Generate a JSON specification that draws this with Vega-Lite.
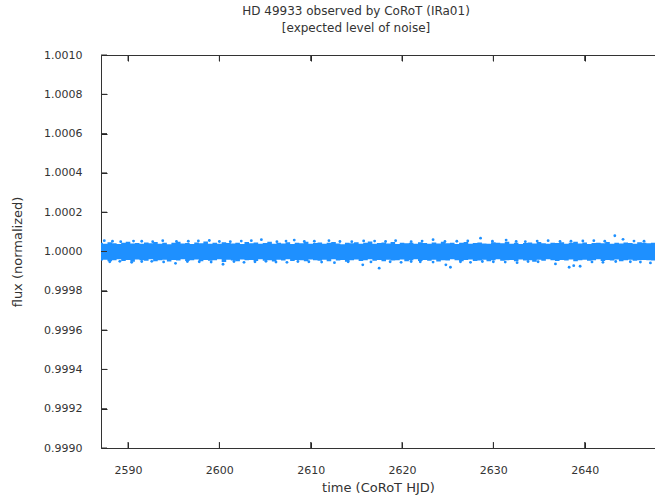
{
  "$schema": "https://vega.github.io/schema/vega-lite/v6.json",
  "width": 554,
  "height": 393,
  "autosize": {"type": "none"},
  "padding": {"left": 101, "top": 55, "right": 0, "bottom": 49},
  "background": "white",
  "config": {
    "view": {"stroke": null},
    "font": "DejaVu Sans",
    "axis": {
      "grid": false,
      "domainColor": "#333",
      "labelColor": "#333",
      "titleColor": "#333",
      "labelFontSize": 11,
      "titleFontSize": 13,
      "titleFontWeight": "normal",
      "labelFont": "DejaVu Sans",
      "titleFont": "DejaVu Sans"
    }
  },
  "title": {
    "text": ["HD 49933 observed by CoRoT (IRa01)", "[expected level of noise]"],
    "fontSize": 12,
    "fontWeight": "normal",
    "font": "DejaVu Sans",
    "color": "#333",
    "anchor": "middle",
    "dx": -22,
    "offset": 14,
    "lineHeight": 17
  },
  "datasets": {
    "band": [
      {"t":2587,"lo":0.999954,"hi":1.000044},
      {"t":2587.5,"lo":0.999958,"hi":1.000040},
      {"t":2588,"lo":0.999950,"hi":1.000047},
      {"t":2588.5,"lo":0.999956,"hi":1.000042},
      {"t":2589,"lo":0.999961,"hi":1.000038},
      {"t":2589.5,"lo":0.999952,"hi":1.000045},
      {"t":2590,"lo":0.999957,"hi":1.000050},
      {"t":2590.5,"lo":0.999948,"hi":1.000041},
      {"t":2591,"lo":0.999959,"hi":1.000043},
      {"t":2591.5,"lo":0.999955,"hi":1.000039},
      {"t":2592,"lo":0.999953,"hi":1.000046},
      {"t":2592.5,"lo":0.999960,"hi":1.000042},
      {"t":2593,"lo":0.999951,"hi":1.000048},
      {"t":2593.5,"lo":0.999956,"hi":1.000040},
      {"t":2594,"lo":0.999958,"hi":1.000044},
      {"t":2594.5,"lo":0.999949,"hi":1.000037},
      {"t":2595,"lo":0.999957,"hi":1.000045},
      {"t":2595.5,"lo":0.999954,"hi":1.000049},
      {"t":2596,"lo":0.999961,"hi":1.000041},
      {"t":2596.5,"lo":0.999952,"hi":1.000043},
      {"t":2597,"lo":0.999955,"hi":1.000038},
      {"t":2597.5,"lo":0.999959,"hi":1.000046},
      {"t":2598,"lo":0.999950,"hi":1.000042},
      {"t":2598.5,"lo":0.999957,"hi":1.000051},
      {"t":2599,"lo":0.999953,"hi":1.000040},
      {"t":2599.5,"lo":0.999956,"hi":1.000044},
      {"t":2600,"lo":0.999960,"hi":1.000039},
      {"t":2600.5,"lo":0.999947,"hi":1.000047},
      {"t":2601,"lo":0.999958,"hi":1.000043},
      {"t":2601.5,"lo":0.999954,"hi":1.000041},
      {"t":2602,"lo":0.999951,"hi":1.000045},
      {"t":2602.5,"lo":0.999959,"hi":1.000038},
      {"t":2603,"lo":0.999955,"hi":1.000048},
      {"t":2603.5,"lo":0.999957,"hi":1.000042},
      {"t":2604,"lo":0.999952,"hi":1.000046},
      {"t":2604.5,"lo":0.999960,"hi":1.000040},
      {"t":2605,"lo":0.999953,"hi":1.000043},
      {"t":2605.5,"lo":0.999956,"hi":1.000050},
      {"t":2606,"lo":0.999949,"hi":1.000039},
      {"t":2606.5,"lo":0.999958,"hi":1.000044},
      {"t":2607,"lo":0.999954,"hi":1.000041},
      {"t":2607.5,"lo":0.999961,"hi":1.000047},
      {"t":2608,"lo":0.999952,"hi":1.000038},
      {"t":2608.5,"lo":0.999957,"hi":1.000045},
      {"t":2609,"lo":0.999955,"hi":1.000042},
      {"t":2609.5,"lo":0.999950,"hi":1.000049},
      {"t":2610,"lo":0.999959,"hi":1.000040},
      {"t":2610.5,"lo":0.999956,"hi":1.000043},
      {"t":2611,"lo":0.999953,"hi":1.000046},
      {"t":2611.5,"lo":0.999958,"hi":1.000039},
      {"t":2612,"lo":0.999951,"hi":1.000044},
      {"t":2612.5,"lo":0.999960,"hi":1.000048},
      {"t":2613,"lo":0.999954,"hi":1.000041},
      {"t":2613.5,"lo":0.999957,"hi":1.000037},
      {"t":2614,"lo":0.999948,"hi":1.000045},
      {"t":2614.5,"lo":0.999955,"hi":1.000042},
      {"t":2615,"lo":0.999959,"hi":1.000047},
      {"t":2615.5,"lo":0.999952,"hi":1.000040},
      {"t":2616,"lo":0.999956,"hi":1.000044},
      {"t":2616.5,"lo":0.999961,"hi":1.000051},
      {"t":2617,"lo":0.999953,"hi":1.000039},
      {"t":2617.5,"lo":0.999957,"hi":1.000043},
      {"t":2618,"lo":0.999950,"hi":1.000046},
      {"t":2618.5,"lo":0.999958,"hi":1.000041},
      {"t":2619,"lo":0.999954,"hi":1.000048},
      {"t":2619.5,"lo":0.999956,"hi":1.000038},
      {"t":2620,"lo":0.999959,"hi":1.000045},
      {"t":2620.5,"lo":0.999951,"hi":1.000042},
      {"t":2621,"lo":0.999955,"hi":1.000044},
      {"t":2621.5,"lo":0.999960,"hi":1.000040},
      {"t":2622,"lo":0.999952,"hi":1.000047},
      {"t":2622.5,"lo":0.999957,"hi":1.000043},
      {"t":2623,"lo":0.999953,"hi":1.000039},
      {"t":2623.5,"lo":0.999958,"hi":1.000046},
      {"t":2624,"lo":0.999949,"hi":1.000041},
      {"t":2624.5,"lo":0.999956,"hi":1.000050},
      {"t":2625,"lo":0.999954,"hi":1.000042},
      {"t":2625.5,"lo":0.999960,"hi":1.000045},
      {"t":2626,"lo":0.999955,"hi":1.000038},
      {"t":2626.5,"lo":0.999951,"hi":1.000044},
      {"t":2627,"lo":0.999957,"hi":1.000048},
      {"t":2627.5,"lo":0.999959,"hi":1.000040},
      {"t":2628,"lo":0.999952,"hi":1.000043},
      {"t":2628.5,"lo":0.999954,"hi":1.000046},
      {"t":2629,"lo":0.999958,"hi":1.000041},
      {"t":2629.5,"lo":0.999950,"hi":1.000039},
      {"t":2630,"lo":0.999956,"hi":1.000047},
      {"t":2630.5,"lo":0.999961,"hi":1.000044},
      {"t":2631,"lo":0.999953,"hi":1.000042},
      {"t":2631.5,"lo":0.999955,"hi":1.000049},
      {"t":2632,"lo":0.999957,"hi":1.000040},
      {"t":2632.5,"lo":0.999951,"hi":1.000045},
      {"t":2633,"lo":0.999959,"hi":1.000038},
      {"t":2633.5,"lo":0.999954,"hi":1.000043},
      {"t":2634,"lo":0.999956,"hi":1.000046},
      {"t":2634.5,"lo":0.999948,"hi":1.000041},
      {"t":2635,"lo":0.999958,"hi":1.000048},
      {"t":2635.5,"lo":0.999953,"hi":1.000042},
      {"t":2636,"lo":0.999960,"hi":1.000039},
      {"t":2636.5,"lo":0.999955,"hi":1.000045},
      {"t":2637,"lo":0.999952,"hi":1.000043},
      {"t":2637.5,"lo":0.999957,"hi":1.000047},
      {"t":2638,"lo":0.999954,"hi":1.000040},
      {"t":2638.5,"lo":0.999959,"hi":1.000044},
      {"t":2639,"lo":0.999950,"hi":1.000050},
      {"t":2639.5,"lo":0.999956,"hi":1.000041},
      {"t":2640,"lo":0.999958,"hi":1.000046},
      {"t":2640.5,"lo":0.999953,"hi":1.000038},
      {"t":2641,"lo":0.999955,"hi":1.000043},
      {"t":2641.5,"lo":0.999961,"hi":1.000045},
      {"t":2642,"lo":0.999952,"hi":1.000042},
      {"t":2642.5,"lo":0.999957,"hi":1.000048},
      {"t":2643,"lo":0.999954,"hi":1.000039},
      {"t":2643.5,"lo":0.999959,"hi":1.000044},
      {"t":2644,"lo":0.999951,"hi":1.000041},
      {"t":2644.5,"lo":0.999956,"hi":1.000046},
      {"t":2645,"lo":0.999958,"hi":1.000043},
      {"t":2645.5,"lo":0.999953,"hi":1.000040},
      {"t":2646,"lo":0.999955,"hi":1.000047},
      {"t":2646.5,"lo":0.999957,"hi":1.000045},
      {"t":2647,"lo":0.999956,"hi":1.000042},
      {"t":2647.5,"lo":0.999954,"hi":1.000044},
      {"t":2648,"lo":0.999955,"hi":1.000043}
    ],
    "specks": [
      {"t":2587.4,"f":1.000055},
      {"t":2588.3,"f":1.000052},
      {"t":2589.2,"f":1.000050},
      {"t":2590.6,"f":1.000053},
      {"t":2591.5,"f":1.000052},
      {"t":2592.7,"f":1.000050},
      {"t":2593.8,"f":1.000055},
      {"t":2595.3,"f":1.000051},
      {"t":2596.6,"f":1.000052},
      {"t":2597.7,"f":1.000054},
      {"t":2598.9,"f":1.000056},
      {"t":2600.0,"f":1.000051},
      {"t":2601.2,"f":1.000050},
      {"t":2602.4,"f":1.000053},
      {"t":2603.5,"f":1.000055},
      {"t":2604.6,"f":1.000060},
      {"t":2606.3,"f":1.000050},
      {"t":2607.3,"f":1.000053},
      {"t":2608.2,"f":1.000058},
      {"t":2609.3,"f":1.000051},
      {"t":2610.4,"f":1.000052},
      {"t":2612.0,"f":1.000055},
      {"t":2613.2,"f":1.000051},
      {"t":2614.5,"f":1.000050},
      {"t":2615.8,"f":1.000054},
      {"t":2617.0,"f":1.000053},
      {"t":2618.2,"f":1.000051},
      {"t":2619.3,"f":1.000055},
      {"t":2621.0,"f":1.000050},
      {"t":2622.2,"f":1.000053},
      {"t":2623.4,"f":1.000060},
      {"t":2624.7,"f":1.000051},
      {"t":2626.0,"f":1.000052},
      {"t":2627.2,"f":1.000054},
      {"t":2628.6,"f":1.000068},
      {"t":2629.9,"f":1.000052},
      {"t":2631.4,"f":1.000058},
      {"t":2632.5,"f":1.000051},
      {"t":2633.5,"f":1.000050},
      {"t":2634.8,"f":1.000053},
      {"t":2636.0,"f":1.000055},
      {"t":2637.3,"f":1.000051},
      {"t":2638.5,"f":1.000052},
      {"t":2639.8,"f":1.000054},
      {"t":2641.0,"f":1.000055},
      {"t":2642.2,"f":1.000052},
      {"t":2643.3,"f":1.000080},
      {"t":2644.2,"f":1.000062},
      {"t":2645.4,"f":1.000053},
      {"t":2646.5,"f":1.000052},
      {"t":2588.0,"f":0.999948},
      {"t":2589.1,"f":0.999950},
      {"t":2590.4,"f":0.999945},
      {"t":2591.5,"f":0.999949},
      {"t":2592.6,"f":0.999950},
      {"t":2593.9,"f":0.999947},
      {"t":2595.2,"f":0.999940},
      {"t":2596.5,"f":0.999949},
      {"t":2597.8,"f":0.999948},
      {"t":2599.1,"f":0.999946},
      {"t":2600.4,"f":0.999935},
      {"t":2601.6,"f":0.999949},
      {"t":2602.7,"f":0.999945},
      {"t":2603.9,"f":0.999948},
      {"t":2605.1,"f":0.999950},
      {"t":2606.2,"f":0.999946},
      {"t":2607.4,"f":0.999945},
      {"t":2608.6,"f":0.999949},
      {"t":2609.8,"f":0.999948},
      {"t":2611.2,"f":0.999946},
      {"t":2612.6,"f":0.999943},
      {"t":2614.1,"f":0.999948},
      {"t":2615.7,"f":0.999932},
      {"t":2616.6,"f":0.999947},
      {"t":2617.5,"f":0.999915},
      {"t":2618.7,"f":0.999948},
      {"t":2619.9,"f":0.999945},
      {"t":2621.0,"f":0.999949},
      {"t":2622.0,"f":0.999948},
      {"t":2623.4,"f":0.999946},
      {"t":2624.8,"f":0.999932},
      {"t":2625.3,"f":0.999920},
      {"t":2626.4,"f":0.999948},
      {"t":2627.5,"f":0.999945},
      {"t":2628.8,"f":0.999949},
      {"t":2630.0,"f":0.999948},
      {"t":2631.3,"f":0.999946},
      {"t":2632.6,"f":0.999943},
      {"t":2633.8,"f":0.999949},
      {"t":2634.9,"f":0.999948},
      {"t":2636.8,"f":0.999937},
      {"t":2638.3,"f":0.999920},
      {"t":2638.8,"f":0.999928},
      {"t":2639.5,"f":0.999925},
      {"t":2640.8,"f":0.999947},
      {"t":2642.0,"f":0.999945},
      {"t":2643.4,"f":0.999949},
      {"t":2645.0,"f":0.999948},
      {"t":2646.1,"f":0.999946},
      {"t":2647.2,"f":0.999942}
    ],
    "xticks": [{"t":2590},{"t":2600},{"t":2610},{"t":2620},{"t":2630},{"t":2640}],
    "yticks": [{"v":0.999},{"v":0.9992},{"v":0.9994},{"v":0.9996},{"v":0.9998},{"v":1.0},{"v":1.0002},{"v":1.0004},{"v":1.0006},{"v":1.0008},{"v":1.001}]
  },
  "layer": [
    {
      "data": {"name": "band"},
      "mark": {"type": "area", "color": "#1E90FF", "opacity": 1, "interpolate": "step", "clip": true},
      "encoding": {
        "x": {
          "field": "t", "type": "quantitative",
          "scale": {"domain": [2587.04, 2647.7], "nice": false, "zero": false},
          "axis": {
            "orient": "bottom",
            "values": [2590, 2600, 2610, 2620, 2630, 2640],
            "format": "d",
            "ticks": true,
            "tickSize": -6,
            "tickColor": "#222",
            "labelPadding": 22,
            "labelOverlap": false,
            "labelFlush": false,
            "title": "time (CoRoT HJD)",
            "titlePadding": 6
          }
        },
        "y": {
          "field": "lo", "type": "quantitative",
          "scale": {"domain": [0.999, 1.001], "nice": false, "zero": false},
          "axis": {
            "values": [0.999, 0.9992, 0.9994, 0.9996, 0.9998, 1.0, 1.0002, 1.0004, 1.0006, 1.0008, 1.001],
            "format": ".4f",
            "ticks": true,
            "tickSize": -6,
            "tickColor": "#222",
            "labelPadding": 25,
            "labelOverlap": false,
            "labelFlush": false,
            "title": "flux (normalized)",
            "titlePadding": 19
          }
        },
        "y2": {"field": "hi"}
      }
    },
    {
      "data": {"name": "specks"},
      "mark": {"type": "circle", "color": "#1E90FF", "opacity": 1, "size": 8, "clip": true},
      "encoding": {
        "x": {
          "field": "t", "type": "quantitative",
          "scale": {"domain": [2587.04, 2647.7], "nice": false, "zero": false},
          "axis": {
            "orient": "top",
            "values": [2590, 2600, 2610, 2620, 2630, 2640],
            "labels": false,
            "ticks": true,
            "tickSize": -6,
            "tickColor": "#222",
            "title": null
          }
        },
        "y": {
          "field": "f", "type": "quantitative",
          "scale": {"domain": [0.999, 1.001], "nice": false, "zero": false},
          "axis": {
            "values": [0.999, 0.9992, 0.9994, 0.9996, 0.9998, 1.0, 1.0002, 1.0004, 1.0006, 1.0008, 1.001],
            "format": ".4f",
            "ticks": true,
            "tickSize": -6,
            "tickColor": "#222",
            "labelPadding": 25,
            "labelOverlap": false,
            "labelFlush": false,
            "title": "flux (normalized)",
            "titlePadding": 19
          }
        }
      }
    },
    {
      "data": {"name": "xticks"},
      "mark": {"type": "rule", "color": "#333", "strokeWidth": 1},
      "encoding": {
        "x": {"field": "t", "type": "quantitative", "scale": {"domain": [2587.04, 2647.7], "nice": false, "zero": false}, "axis": null},
        "y": {"datum": 0.999, "type": "quantitative", "scale": {"domain": [0.999, 1.001], "nice": false, "zero": false},
          "axis": {
            "values": [0.999, 0.9992, 0.9994, 0.9996, 0.9998, 1.0, 1.0002, 1.0004, 1.0006, 1.0008, 1.001],
            "format": ".4f",
            "ticks": true,
            "tickSize": -6,
            "tickColor": "#222",
            "labelPadding": 25,
            "labelOverlap": false,
            "labelFlush": false,
            "title": "flux (normalized)",
            "titlePadding": 19
          }},
        "y2": {"datum": 0.9990305}
      }
    },
    {
      "data": {"name": "xticks"},
      "mark": {"type": "rule", "color": "#333", "strokeWidth": 1},
      "encoding": {
        "x": {"field": "t", "type": "quantitative", "scale": {"domain": [2587.04, 2647.7], "nice": false, "zero": false}, "axis": null},
        "y": {"datum": 1.001, "type": "quantitative", "scale": {"domain": [0.999, 1.001], "nice": false, "zero": false},
          "axis": {
            "values": [0.999, 0.9992, 0.9994, 0.9996, 0.9998, 1.0, 1.0002, 1.0004, 1.0006, 1.0008, 1.001],
            "format": ".4f",
            "ticks": true,
            "tickSize": -6,
            "tickColor": "#222",
            "labelPadding": 25,
            "labelOverlap": false,
            "labelFlush": false,
            "title": "flux (normalized)",
            "titlePadding": 19
          }},
        "y2": {"datum": 1.0009695}
      }
    },
    {
      "data": {"name": "yticks"},
      "mark": {"type": "rule", "color": "#333", "strokeWidth": 1},
      "encoding": {
        "x": {"datum": 2587.04, "type": "quantitative", "scale": {"domain": [2587.04, 2647.7], "nice": false, "zero": false}, "axis": null},
        "x2": {"datum": 2587.697},
        "y": {"field": "v", "type": "quantitative", "scale": {"domain": [0.999, 1.001], "nice": false, "zero": false},
          "axis": {
            "values": [0.999, 0.9992, 0.9994, 0.9996, 0.9998, 1.0, 1.0002, 1.0004, 1.0006, 1.0008, 1.001],
            "format": ".4f",
            "ticks": true,
            "tickSize": -6,
            "tickColor": "#222",
            "labelPadding": 25,
            "labelOverlap": false,
            "labelFlush": false,
            "title": "flux (normalized)",
            "titlePadding": 19
          }}
      }
    }
  ],
  "resolve": {"scale": {"x": "independent"}, "axis": {"x": "independent"}}
}
